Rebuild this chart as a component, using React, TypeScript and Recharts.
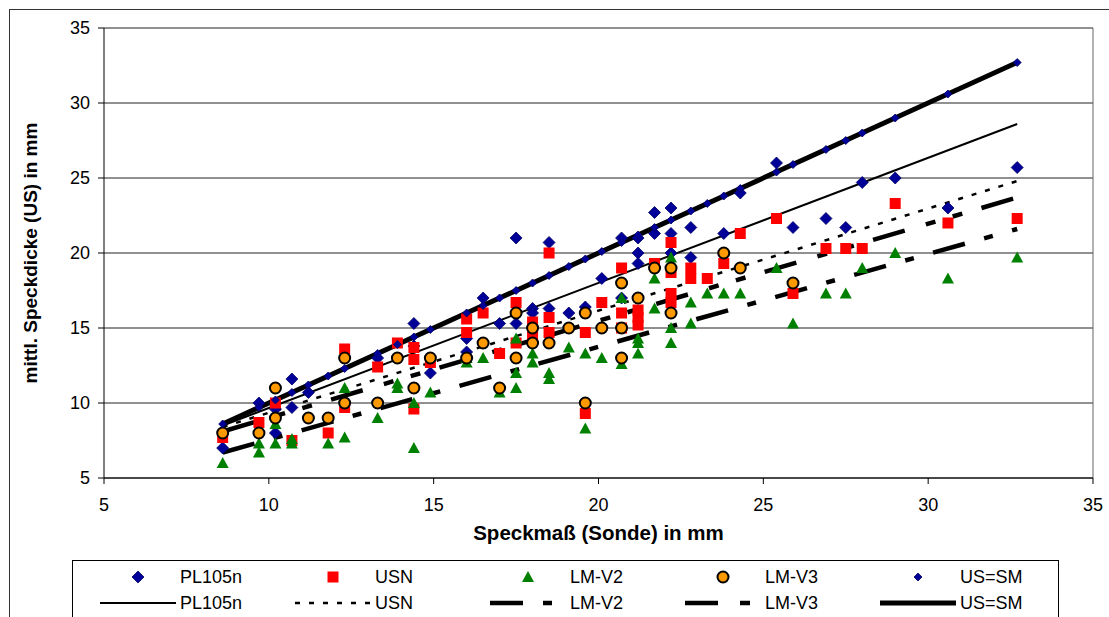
import {
  ScatterChart,
  Scatter,
  XAxis,
  YAxis,
  CartesianGrid,
  ReferenceLine,
} from "recharts"

type Pair = [number, number]

const pl105nPoints: Pair[] = [
  [8.6, 7.0], [9.7, 10.0], [10.2, 8.0], [10.2, 9.6], [10.7, 11.6], [10.7, 9.7],
  [11.2, 10.7], [13.3, 13.0], [14.4, 15.3], [14.4, 13.8], [14.9, 12.0], [16.0, 14.3],
  [16.0, 13.4], [16.5, 17.0], [17.0, 15.3], [17.5, 21.0], [17.5, 15.3], [18.0, 16.3],
  [18.0, 16.0], [18.5, 20.7], [18.5, 16.3], [19.1, 16.0], [19.6, 16.4], [20.1, 18.3],
  [20.7, 21.0], [20.7, 17.0], [21.2, 21.0], [21.2, 20.0], [21.2, 19.3], [21.7, 22.7],
  [21.7, 21.3], [22.2, 23.0], [22.2, 21.3], [22.2, 20.0], [22.8, 21.7], [22.8, 19.7],
  [23.8, 21.3], [24.3, 24.0], [25.4, 26.0], [25.9, 21.7], [26.9, 22.3], [27.5, 21.7],
  [28.0, 24.7], [29.0, 25.0], [30.6, 23.0], [32.7, 25.7],
]

const usnPoints: Pair[] = [
  [8.6, 7.7], [9.7, 8.7], [10.2, 10.0], [10.7, 7.5], [11.8, 8.0], [12.3, 13.6],
  [12.3, 9.7], [13.3, 12.4], [13.9, 14.0], [14.4, 13.7], [14.4, 12.9], [14.4, 9.6],
  [14.9, 12.7], [16.0, 15.6], [16.0, 14.7], [16.5, 16.0], [17.0, 13.3], [17.5, 16.7],
  [17.5, 14.0], [18.0, 15.4], [18.0, 14.5], [18.5, 20.0], [18.5, 15.7], [18.5, 14.7],
  [19.6, 14.7], [19.6, 9.3], [20.1, 16.7], [20.7, 19.0], [20.7, 16.0], [20.7, 15.0],
  [21.2, 16.2], [21.2, 15.7], [21.2, 15.2], [21.7, 19.3], [22.2, 20.7], [22.2, 18.7],
  [22.2, 17.3], [22.2, 16.7], [22.8, 19.0], [22.8, 18.3], [23.3, 18.3], [23.8, 19.3],
  [24.3, 21.3], [25.4, 22.3], [25.9, 17.3], [26.9, 20.3], [27.5, 20.3], [28.0, 20.3],
  [29.0, 23.3], [30.6, 22.0], [32.7, 22.3],
]

const lmV2Points: Pair[] = [
  [8.6, 6.0], [9.7, 7.3], [9.7, 6.7], [10.2, 7.3], [10.2, 8.6], [10.7, 7.6],
  [10.7, 7.3], [11.8, 7.3], [12.3, 7.7], [12.3, 11.0], [13.3, 9.0], [13.9, 11.3],
  [13.9, 11.0], [14.4, 7.0], [14.4, 10.0], [14.9, 10.7], [16.0, 13.0], [16.0, 12.7],
  [16.5, 13.0], [17.0, 10.7], [17.5, 14.3], [17.5, 12.0], [17.5, 11.0], [18.0, 13.3],
  [18.0, 12.7], [18.5, 12.0], [18.5, 11.6], [19.1, 13.7], [19.6, 13.3], [19.6, 8.3],
  [20.1, 13.0], [20.7, 17.0], [20.7, 12.6], [21.2, 14.3], [21.2, 14.0], [21.2, 13.3],
  [21.7, 18.3], [21.7, 16.3], [22.2, 19.7], [22.2, 15.0], [22.2, 14.0], [22.8, 16.7],
  [22.8, 15.3], [23.3, 17.3], [23.8, 17.3], [24.3, 17.3], [25.4, 19.0], [25.9, 15.3],
  [26.9, 17.3], [27.5, 17.3], [28.0, 19.0], [29.0, 20.0], [30.6, 18.3], [32.7, 19.7],
]

const lmV3Points: Pair[] = [
  [8.6, 8.0], [9.7, 8.0], [10.2, 11.0], [10.2, 9.0], [11.2, 9.0], [11.8, 9.0],
  [12.3, 13.0], [12.3, 10.0], [13.3, 10.0], [13.9, 13.0], [14.4, 11.0], [14.9, 13.0],
  [16.0, 13.0], [16.5, 14.0], [17.0, 11.0], [17.5, 16.0], [17.5, 13.0], [18.0, 15.0],
  [18.0, 14.0], [18.5, 14.0], [19.1, 15.0], [19.6, 16.0], [19.6, 10.0], [20.1, 15.0],
  [20.7, 18.0], [20.7, 15.0], [20.7, 13.0], [21.2, 17.0], [21.7, 19.0], [22.2, 19.0],
  [22.2, 16.0], [23.8, 20.0], [24.3, 19.0], [25.9, 18.0],
]

const usSmPoints: Pair[] = [
  [8.6, 8.6], [9.7, 9.7], [10.2, 10.2], [10.7, 10.7], [11.2, 11.2], [11.8, 11.8],
  [12.3, 12.3], [13.3, 13.3], [13.9, 13.9], [14.4, 14.4], [14.9, 14.9], [16.0, 16.0],
  [16.5, 16.5], [17.0, 17.0], [17.5, 17.5], [18.0, 18.0], [18.5, 18.5], [19.1, 19.1],
  [19.6, 19.6], [20.1, 20.1], [20.7, 20.7], [21.2, 21.2], [21.7, 21.7], [22.2, 22.2],
  [22.8, 22.8], [23.3, 23.3], [23.8, 23.8], [24.3, 24.3], [25.4, 25.4], [25.9, 25.9],
  [26.9, 26.9], [27.5, 27.5], [28.0, 28.0], [29.0, 29.0], [30.6, 30.6], [32.7, 32.7],
]

// trend line end points
const trendPL105n: Pair[] = [[8.6, 8.5], [32.7, 28.6]]
const trendUSN: Pair[] = [[8.6, 8.4], [32.7, 24.8]]
const trendLMV2: Pair[] = [[8.6, 6.7], [32.7, 21.6]]
const trendLMV3: Pair[] = [[8.6, 8.1], [32.7, 23.7]]
const trendUSSM: Pair[] = [[8.6, 8.6], [32.7, 32.7]]

const axisTicks = [5, 10, 15, 20, 25, 30, 35]
const legendNames = ["PL105n", "USN", "LM-V2", "LM-V3", "US=SM"]

const FONT = '"Liberation Sans", Arial, sans-serif'
const BLUE = "#000099"
const RED = "#ff0000"
const GREEN = "#008000"
const ORANGE = "#ff9900"

const toXY = (pts: Pair[]) => pts.map(([x, y]) => ({ x, y }))

const diamond = (cx: number, cy: number, r: number, fill: string) => (
  <polygon
    points={`${cx},${cy - r} ${cx + r},${cy} ${cx},${cy + r} ${cx - r},${cy}`}
    fill={fill}
    stroke="#000066"
    strokeWidth={0.8}
  />
)
const square = (cx: number, cy: number) => (
  <rect x={cx - 5.5} y={cy - 5.5} width={11} height={11} fill={RED} />
)
const triangle = (cx: number, cy: number) => (
  <polygon points={`${cx},${cy - 6} ${cx + 6},${cy + 5} ${cx - 6},${cy + 5}`} fill={GREEN} />
)
const circle = (cx: number, cy: number) => (
  <circle cx={cx} cy={cy} r={5.5} fill={ORANGE} stroke="#000" strokeWidth={2} />
)

const trendStyles = [
  { pts: trendPL105n, width: 2, dash: undefined },
  { pts: trendUSN, width: 2.5, dash: "5 9" },
  { pts: trendLMV2, width: 4.5, dash: "33 20 9 20" },
  { pts: trendLMV3, width: 4.5, dash: "33 22 10 18 10 20" },
  { pts: trendUSSM, width: 5, dash: undefined },
]

const legendSymbols = [
  (cx: number, cy: number) => diamond(cx, cy, 6, BLUE),
  (cx: number, cy: number) => square(cx, cy),
  (cx: number, cy: number) => triangle(cx, cy),
  (cx: number, cy: number) => circle(cx, cy),
  (cx: number, cy: number) => diamond(cx, cy, 4, BLUE),
]

const Legend = () => (
  <svg width={1109} height={617} style={{ position: "absolute", left: 0, top: 0, pointerEvents: "none" }}>
    <rect x={72.5} y={560.5} width={986} height={80} fill="#fff" stroke="#000" />
    {legendNames.map((name, i) => {
      const x0 = 195 * i
      const st = trendStyles[i]
      return (
        <g key={name} fontFamily={FONT} fontSize={18}>
          {legendSymbols[i](138 + x0, 577)}
          <text x={180 + x0} y={577} dominantBaseline="central">{name}</text>
          <line
            x1={100 + x0}
            x2={176 + x0}
            y1={603}
            y2={603}
            stroke="#000"
            strokeWidth={st.width}
            strokeDasharray={st.dash}
          />
          <text x={180 + x0} y={603} dominantBaseline="central">{name}</text>
        </g>
      )
    })}
  </svg>
)

export default function App() {
  return (
    <div
      style={{
        position: "fixed",
        left: 0,
        top: 0,
        width: 1109,
        height: 617,
        overflow: "hidden",
        background: "#fff",
        fontFamily: FONT,
      }}
    >
      <div
        style={{
          position: "absolute",
          left: 9,
          top: 9,
          width: 1300,
          height: 800,
          border: "1px solid #333",
        }}
      />
      <div style={{ position: "absolute", left: 0, top: 0 }}>
        <ScatterChart width={1109} height={617} margin={{ top: 28, right: 16, bottom: 79, left: 0 }}>
          <CartesianGrid horizontal vertical={false} stroke="#222" />
          <XAxis
            dataKey="x"
            type="number"
            domain={[5, 35]}
            ticks={axisTicks}
            height={60}
            stroke="#000"
            tickSize={6}
            tickMargin={14}
            tick={{ fill: "#000", fontSize: 18, fontFamily: FONT }}
            label={{
              content: ({ viewBox }: any) => (
                <text
                  x={viewBox.x + viewBox.width / 2}
                  y={viewBox.y + 54}
                  textAnchor="middle"
                  dominantBaseline="central"
                  fontWeight="bold"
                  fontSize={20.5}
                  fontFamily={FONT}
                  fill="#000"
                >
                  Speckmaß (Sonde) in mm
                </text>
              ),
            }}
          />
          <YAxis
            dataKey="y"
            type="number"
            domain={[5, 35]}
            ticks={axisTicks}
            width={104}
            stroke="#000"
            tickSize={6}
            tickMargin={8}
            tick={{ fill: "#000", fontSize: 18, fontFamily: FONT }}
            label={{
              content: ({ viewBox }: any) => {
                const cy = viewBox.y + viewBox.height / 2
                return (
                  <text
                    x={30}
                    y={cy}
                    transform={`rotate(-90, 30, ${cy})`}
                    textAnchor="middle"
                    dominantBaseline="central"
                    fontWeight="bold"
                    fontSize={19}
                    fontFamily={FONT}
                    fill="#000"
                  >
                    mittl. Speckdicke (US) in mm
                  </text>
                )
              },
            }}
          />
          <ReferenceLine x={35} stroke="#666" />
          <Scatter
            name="PL105n"
            data={toXY(pl105nPoints)}
            isAnimationActive={false}
            shape={(p: any) => diamond(p.cx, p.cy, 6, BLUE)}
          />
          <Scatter
            name="USN"
            data={toXY(usnPoints)}
            isAnimationActive={false}
            shape={(p: any) => square(p.cx, p.cy)}
          />
          <Scatter
            name="LM-V2"
            data={toXY(lmV2Points)}
            isAnimationActive={false}
            shape={(p: any) => triangle(p.cx, p.cy)}
          />
          <Scatter
            name="LM-V3"
            data={toXY(lmV3Points)}
            isAnimationActive={false}
            shape={(p: any) => circle(p.cx, p.cy)}
          />
          <Scatter
            name="US=SM"
            data={toXY(usSmPoints)}
            isAnimationActive={false}
            shape={(p: any) => diamond(p.cx, p.cy, 4, BLUE)}
          />
          {trendStyles.map((t, i) => (
            <ReferenceLine
              key={i}
              segment={toXY(t.pts)}
              stroke="#000"
              strokeWidth={t.width}
              strokeDasharray={t.dash}
            />
          ))}
        </ScatterChart>
      </div>
      <Legend />
    </div>
  )
}
